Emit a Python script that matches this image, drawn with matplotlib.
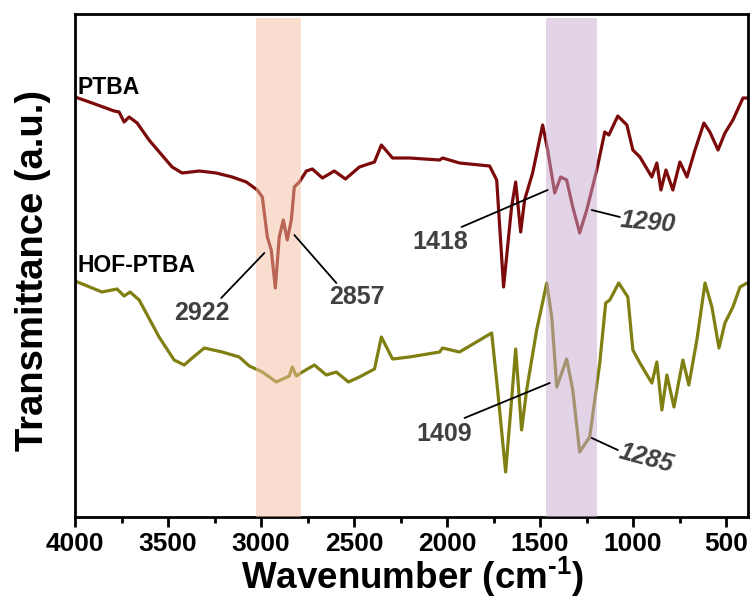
import matplotlib
matplotlib.use("Agg")
import matplotlib.pyplot as plt
from matplotlib.ticker import MultipleLocator

plt.rcParams['font.family'] = ['Liberation Sans', 'DejaVu Sans']
plt.rcParams['mathtext.fontset'] = 'custom'
plt.rcParams['mathtext.rm'] = 'Liberation Sans:bold'
plt.rcParams['mathtext.bf'] = 'Liberation Sans:bold'
plt.rcParams['mathtext.default'] = 'bf'

# ---- data (wavenumber in cm^-1, transmittance in arbitrary units) ----
ptba_wn = [4000, 3908, 3790, 3763, 3736, 3709, 3666, 3602, 3478, 3424, 3332, 3241, 3155,
           3079, 3020, 2993, 2966, 2945, 2923, 2902, 2880, 2859, 2837, 2821, 2794, 2756,
           2724, 2670, 2606, 2546, 2471, 2390, 2353, 2293, 2202, 2040, 2024, 1933, 1771,
           1733, 1696, 1653, 1631, 1604, 1583, 1540, 1486, 1459, 1421, 1389, 1357, 1324,
           1287, 1249, 1195, 1152, 1130, 1082, 1033, 1001, 963, 899, 872, 850, 823, 786,
           748, 710, 667, 619, 587, 543, 506, 463, 409, 387]
ptba_t = [420, 414, 406, 405, 395, 400, 394, 377, 350, 344, 346, 344, 340,
          335, 327, 320, 280, 267, 229, 280, 297, 277, 297, 330, 335, 346,
          348, 339, 346, 338, 350, 355, 372, 359, 359, 357, 359, 354, 351,
          337, 230, 310, 335, 285, 317, 344, 392, 367, 324, 340, 337, 310,
          284, 307, 347, 385, 382, 401, 392, 367, 360, 340, 354, 327, 347, 327,
          355, 340, 367, 394, 385, 367, 384, 397, 419, 419]

hof_wn = [4000, 3855, 3774, 3736, 3704, 3655, 3548, 3467, 3413, 3370, 3305, 3209, 3117,
          3063, 2993, 2918, 2848, 2832, 2810, 2778, 2713, 2649, 2595, 2530, 2471, 2390,
          2353, 2293, 2202, 2040, 2024, 1933, 1760, 1728, 1685, 1653, 1631, 1599, 1572,
          1518, 1464, 1437, 1410, 1357, 1324, 1287, 1233, 1179, 1147, 1125, 1077, 1028,
          1001, 963, 899, 872, 845, 818, 780, 732, 700, 657, 613, 576, 538, 506, 463,
          425, 387]
hof_t = [236, 225, 228, 221, 225, 217, 180, 157, 152, 159, 169, 165, 160,
         151, 145, 135, 141, 150, 141, 145, 152, 142, 145, 135, 140, 148,
         180, 158, 160, 165, 169, 165, 184, 127, 45, 117, 168, 87, 127,
         187, 234, 200, 130, 158, 127, 65, 80, 154, 214, 217, 234, 220,
         167, 154, 134, 155, 107, 142, 110, 157, 132, 177, 234, 210, 169, 194, 210,
         230, 234]

series_names = ["PTBA", "HOF-PTBA"]
bands = [(3025, 2783), (1469, 1195)]

peak_labels = ["2922", "2857", "1418", "1290", "1409", "1285"]
peak_text_pos = [(3316, 204), (2487, 220), (2035, 275), (920, 295), (2013, 83), (931, 59)]
peak_line_from = [(3214, 219), (2821, 282), (1922, 290), (1222, 307), (1906, 99), (1222, 79)]
peak_line_to = [(2982, 264), (2595, 234), (1459, 327), (1071, 300), (1448, 134), (1082, 67)]
peak_rot = [0, 0, 0, -5, 0, -15]
peak_italic = [False, False, False, True, False, True]

# ---- figure ----
fig = plt.figure(figsize=(7.53, 6.08), dpi=100)
ax = fig.add_axes([75 / 753, 1 - 517 / 608, 673 / 753, 503 / 608])

ax.plot(ptba_wn, ptba_t, color="#7D0A0A", lw=2.3, zorder=2, solid_joinstyle='round')
ax.plot(hof_wn, hof_t, color="#7F7F12", lw=2.3, zorder=2, solid_joinstyle='round')

band_colors = ["#F5BFA0", "#C9A8D0"]
for (a, b), c in zip(bands, band_colors):
    ax.axvspan(a, b, ymax=0.992, color=c, alpha=0.5, lw=0, zorder=3)

ax.text(3985, 429, series_names[0], fontsize=16.5, fontweight='bold', ha='left', va='center', color='black')
ax.text(3985, 251, series_names[1], fontsize=16.5, fontweight='bold', ha='left', va='center', color='black')

for lab, tp, lf, lt, rot, it in zip(peak_labels, peak_text_pos, peak_line_from, peak_line_to,
                                     peak_rot, peak_italic):
    ax.annotate("", xy=lt, xytext=lf,
                arrowprops=dict(arrowstyle='-', color='black', lw=1.3, shrinkA=0, shrinkB=0),
                zorder=4)
    ax.text(tp[0], tp[1], lab, fontsize=18, fontweight='bold', color='#404040',
            ha='center', va='center', rotation=rot,
            fontstyle='italic' if it else 'normal', zorder=5)

ax.set_xlim(4000, 382)
ax.set_ylim(0, 503)
ax.xaxis.set_major_locator(MultipleLocator(500))
ax.xaxis.set_minor_locator(MultipleLocator(250))
ax.set_yticks([])
ax.tick_params(axis='x', which='major', direction='out', length=7, width=2,
               labelsize=19, pad=4)
ax.tick_params(axis='x', which='minor', direction='out', length=4, width=2)
for lbl in ax.get_xticklabels():
    lbl.set_fontweight('bold')
for s in ax.spines.values():
    s.set_linewidth(2)

ax.set_xlabel("Wavenumber (cm$^{\\text{-1}}$)", fontsize=26.5, fontweight='bold')
ax.set_ylabel("Transmittance (a.u.)", fontsize=27.5, fontweight='bold')
ax.xaxis.set_label_coords(0.502, -0.075)
ax.yaxis.set_label_coords(-0.036, 0.49)

fig.savefig("out.png", dpi=100)
